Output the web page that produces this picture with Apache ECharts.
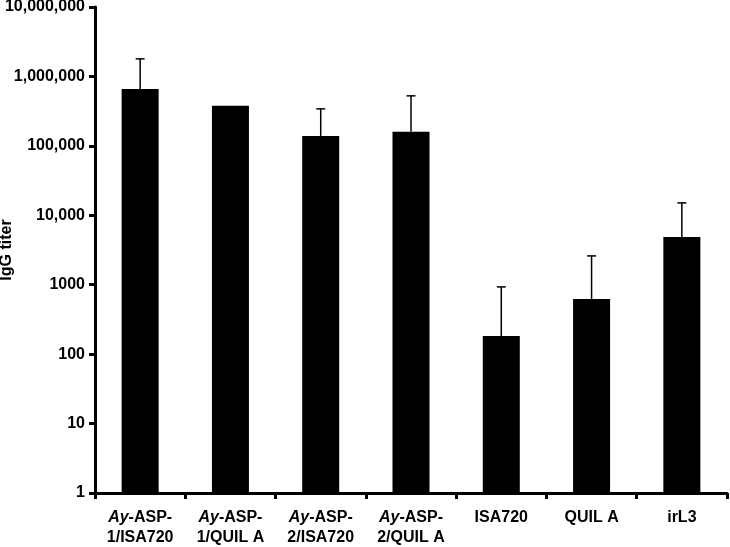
<!DOCTYPE html>
<html lang="en">
<head>
<meta charset="UTF-8">
<title>IgG titer</title>
<script src="https://cdn.jsdelivr.net/npm/echarts@6/dist/echarts.min.js"></script>
<style>
  html, body { margin: 0; padding: 0; background: #fff; }
  #chart { width: 730px; height: 547px; }
</style>
</head>
<body>
<div id="chart"></div>
<script>
// groups on the x axis ("Ay" is drawn in italics)
var groups = ['Ay-ASP-1/ISA720', 'Ay-ASP-1/QUIL A', 'Ay-ASP-2/ISA720', 'Ay-ASP-2/QUIL A', 'ISA720', 'QUIL A', 'irL3'];
var titer = [660000, 377000, 139000, 159000, 182, 624, 4880];
var titerUpper = [1790000, null, 341000, 525000, 930, 2600, 15100];
var yTicks = [1, 10, 100, 1000, 10000, 100000, 1000000, 10000000];

var font = '"Liberation Sans", Arial, sans-serif';

function catLabel(name) {
    if (name.indexOf('Ay-') === 0) {
        var rest = name.slice(3);           // "ASP-1/ISA720"
        var cut = rest.indexOf('-') + 1;
        return '{i|Ay}-' + rest.slice(0, cut) + '\n' + rest.slice(cut);
    }
    return name;
}

var chart = echarts.init(document.getElementById('chart'));
chart.setOption({
    animation: false,
    grid: { left: 95, right: 3, top: 7, bottom: 54, outerBoundsMode: 'none', containLabel: false },
    xAxis: {
        type: 'category',
        data: groups,
        axisLine: { lineStyle: { color: '#000', width: 3 } },
        axisTick: { show: true, length: 6, lineStyle: { color: '#000', width: 3 } },
        axisLabel: {
            interval: 0,
            margin: 15,
            color: '#000',
            fontFamily: font,
            fontWeight: 'bold',
            fontSize: 16,
            lineHeight: 20,
            formatter: catLabel,
            rich: {
                i: { fontStyle: 'italic', fontWeight: 'bold', fontSize: 16, fontFamily: font, color: '#000', lineHeight: 20 }
            }
        }
    },
    yAxis: {
        type: 'log',
        logBase: 10,
        min: 1,
        max: 10000000,
        name: 'IgG titer',
        nameLocation: 'middle',
        nameGap: 80,
        nameMoveOverlap: false,
        nameTextStyle: { color: '#000', fontFamily: font, fontWeight: 'bold', fontSize: 16 },
        splitLine: { show: false },
        axisLine: { show: true, lineStyle: { color: '#000', width: 3 } },
        axisTick: { show: true, length: 6, lineStyle: { color: '#000', width: 3 } },
        axisLabel: {
            margin: 10,
            color: '#000',
            fontFamily: font,
            fontWeight: 'bold',
            fontSize: 16,
            formatter: function (v) {
                v = Math.round(v);
                if (yTicks.indexOf(v) < 0) return '';
                return v >= 10000 ? v.toLocaleString('en-US') : String(v);
            }
        }
    },
    series: [
        {
            type: 'bar',
            data: titer,
            barWidth: '41%',
            itemStyle: { color: '#000' },
            z: 2
        },
        {
            type: 'custom',
            z: 3,
            data: titer.map(function (v, i) { return [i, v, titerUpper[i]]; }),
            renderItem: function (params, api) {
                var up = api.value(2);
                if (!up) return null;
                var base = api.coord([api.value(0), api.value(1)]);
                var top = api.coord([api.value(0), up]);
                var half = 4.5;
                var style = { stroke: '#000', lineWidth: 1.5, fill: null };
                return {
                    type: 'group',
                    children: [
                        { type: 'line', shape: { x1: base[0], y1: base[1], x2: top[0], y2: top[1] }, style: style },
                        { type: 'line', shape: { x1: top[0] - half, y1: top[1], x2: top[0] + half, y2: top[1] }, style: style }
                    ]
                };
            }
        }
    ]
});
</script>
</body>
</html>
